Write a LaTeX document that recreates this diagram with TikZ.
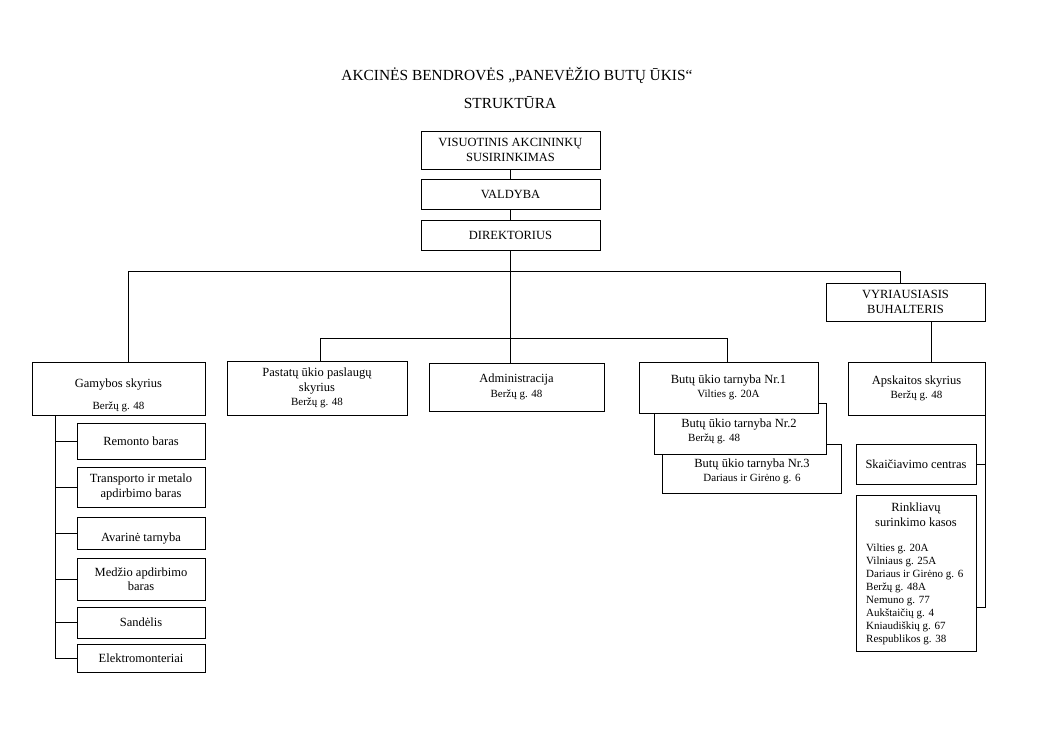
\documentclass[tikz,border=0pt]{standalone}
\usepackage{fontspec}
\setmainfont{Liberation Serif}
\begin{document}
\begin{tikzpicture}[x=1pt,y=-1pt,
  box/.style={draw, line width=1pt, fill=white, inner sep=0pt, align=center,
    font=\fontsize{12.5}{14.5}\selectfont},
  txt/.style={inner sep=0pt, font=\fontsize{12.5}{14.5}\selectfont},
  sml/.style={inner sep=0pt, font=\fontsize{11}{13}\selectfont},
  conn/.style={line width=1pt}]
\useasboundingbox (0,0) rectangle (1050,742);
\newcommand\bx[6]{\node[box, minimum width={#4-#2}, minimum height={#5-#3}] (#1) at ({(#2+#4)/2},{(#3+#5)/2}) {#6};}
\newcommand\smtx[1]{{\fontsize{11}{13}\selectfont #1}}
% title
\node[inner sep=0pt, font=\fontsize{15.4}{17}\selectfont, anchor=base] (title) at (517,80) {AKCINĖS BENDROVĖS „PANEVĖŽIO BUTŲ ŪKIS“};
\node[inner sep=0pt, font=\fontsize{15.4}{17}\selectfont, anchor=base] (subtitle) at (510,108) {STRUKTŪRA};
% top chain
\bx{vis}{421}{131}{600}{169}{VISUOTINIS AKCININKŲ\\SUSIRINKIMAS}
\bx{val}{421}{179}{600}{209}{VALDYBA}
\bx{dir}{421}{220}{600}{250}{DIREKTORIUS}
\draw[conn] (vis.south) -- (val.north);
\draw[conn] (val.south) -- (dir.north);
% level boxes
\bx{vyr}{826}{283}{985}{321}{VYRIAUSIASIS\\BUHALTERIS}
\bx{gam}{32}{362}{205}{415}{}
\node[txt, anchor=base] (gamt) at (118.5,387) {Gamybos skyrius};
\node[sml, anchor=base] (gama) at (118.5,409) {Beržų g. 48};
\bx{past}{227}{361}{407}{415}{Pastatų ūkio paslaugų\\skyrius\\\smtx{Beržų g. 48}}
\bx{adm}{429}{363}{604}{411}{Administracija\\\smtx{Beržų g. 48}}
\bx{nr3}{662}{444}{841}{493}{}
\node[txt, anchor=base] (nr3t) at (752,467.5) {Butų ūkio tarnyba Nr.3};
\node[sml, anchor=base] (nr3a) at (752,481) {Dariaus ir Girėno g. 6};
\bx{nr2}{654}{403}{826}{454}{}
\node[txt, anchor=base] (nr2t) at (739,427) {Butų ūkio tarnyba Nr.2};
\node[sml, anchor=base west] (nr2a) at (688,441) {Beržų g. 48};
\bx{nr1}{639}{362}{818}{413}{Butų ūkio tarnyba Nr.1\\\smtx{Vilties g. 20A}}
\bx{apsk}{848}{362}{985}{415}{Apskaitos skyrius\\\smtx{Beržų g. 48}}
\bx{skaic}{856}{444}{976}{484}{Skaičiavimo centras}
\bx{rink}{856}{495}{976}{651}{}
\node[txt, anchor=base] (rinkt1) at (916,511) {Rinkliavų};
\node[txt, anchor=base] (rinkt2) at (916,526) {surinkimo kasos};
\foreach \t [count=\i from 0] in {Vilties g. 20A, Vilniaus g. 25A, Dariaus ir Girėno g. 6, Beržų g. 48A, Nemuno g. 77, Aukštaičių g. 4, Kniaudiškių g. 67, Respublikos g. 38}
  \node[sml, anchor=base west] (rl\i) at (866,{551+13*\i}) {\t};
% sub boxes of Gamybos
\bx{rem}{77}{423}{205}{459}{Remonto baras}
\bx{tra}{77}{467}{205}{507}{Transporto ir metalo\\apdirbimo baras}
\bx{ava}{77}{517}{205}{549}{}
\node[txt, anchor=base] (avat) at (141,541) {Avarinė tarnyba};
\bx{med}{77}{558}{205}{600}{Medžio apdirbimo\\baras}
\bx{san}{77}{607}{205}{638}{Sandėlis}
\bx{ele}{77}{644}{205}{672}{Elektromonteriai}
% connectors
\coordinate (b1l) at (128,271);
\coordinate (b1r) at (900,271);
\coordinate (b2l) at (320,338);
\coordinate (b2r) at (727,338);
\coordinate (gx) at (55,0);
\coordinate (vx) at (931,0);
\draw[conn] (dir.south) -- (dir.south |- adm.north);
\draw[conn] (b1l |- gam.north) -- (b1l) -- (b1r) -- (b1r |- vyr.north);
\draw[conn] (b2l |- past.north) -- (b2l) -- (b2r) -- (b2r |- nr1.north);
\draw[conn] (vx |- vyr.south) -- (vx |- apsk.north);
\draw[conn] (gx |- gam.south) -- (gx |- ele.west) -- (ele.west);
\foreach \n in {rem,tra,ava,med,san}
  \draw[conn] (gx |- \n.west) -- (\n.west);
\draw[conn] (apsk.south east) |- (skaic.east);
\draw[conn] (apsk.south east) -- ++(0,192) coordinate (rend) -- (rend -| rink.east);
\end{tikzpicture}
\end{document}
